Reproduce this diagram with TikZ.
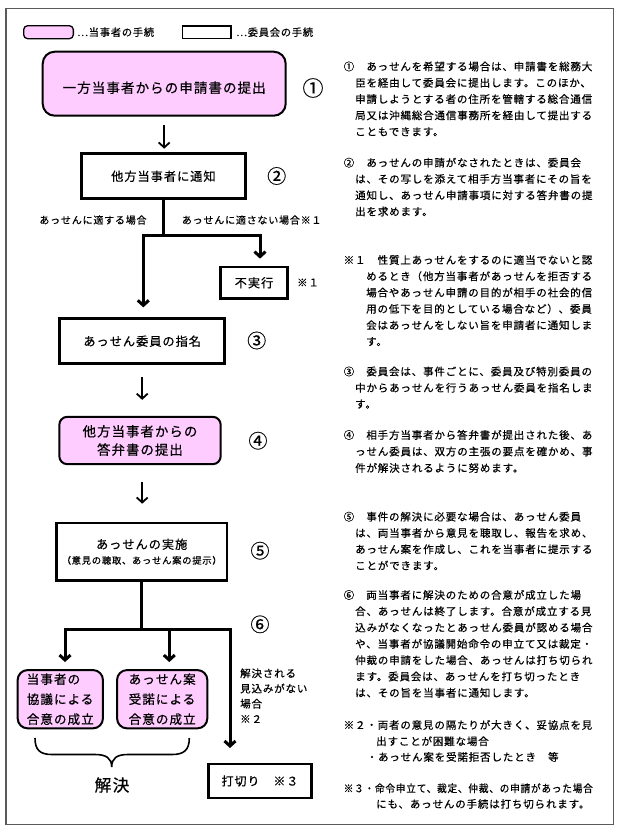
\documentclass[tikz,border=0pt]{standalone}
\usepackage{fontspec}
\usepackage{graphicx}
\setmainfont{Noto Sans CJK JP}[LetterSpace=8,FakeBold=0.5]
\usetikzlibrary{arrows.meta}
\definecolor{pinkfill}{RGB}{255,204,255}
\definecolor{framegray}{RGB}{90,90,90}
\newcounter{tlc}
\newcommand\txl[3]{\stepcounter{tlc}\node[tline] (t\arabic{tlc}) at (#1,#2) {#3};}
\newcommand\fs[1]{\fontsize{#1}{#1}\selectfont}
\begin{document}
\begin{tikzpicture}[x=1pt,y=-1pt,
  tline/.style={anchor=west, inner sep=0pt, font=\fs{10.5}, text height=9.2pt, text depth=1.3pt},
  pinkbox/.style={draw, line width=2pt, fill=pinkfill, rounded corners=12pt, inner sep=0pt},
  whitebox/.style={draw, line width=2.7pt, fill=white, inner sep=0pt},
  circnum/.style={inner sep=0pt, font=\fs{19}},
  lbl/.style={inner sep=0pt, font=\fs{10}},
  barb/.tip={Straight Barb[length=5pt,width=11pt]},
  thinarr/.style={line width=1.8pt, -barb},
  boldline/.style={line width=3pt},
  boldarr/.style={line width=3pt, -barb},
  boldarrs/.style={line width=3pt, barb-barb},
]
\useasboundingbox (0,0) rectangle (620,834);
\draw[framegray, line width=1.5pt] (6,8.5) rectangle (613.5,824.5);

% legend
\node[draw, line width=1.3pt, fill=pinkfill, rounded corners=4pt, minimum width=49.7pt, minimum height=13pt, inner sep=0pt] (lp) at (48.5,32.2) {};
\node[lbl, anchor=west, font=\fs{10.2}] (lpt) at (77,32.2) {⋯当事者の手続};
\node[draw, line width=1.5pt, fill=white, minimum width=48.8pt, minimum height=12.8pt, inner sep=0pt] (lw) at (206.8,32.2) {};
\node[lbl, anchor=west, font=\fs{10.2}] (lwt) at (236,32.2) {⋯委員会の手続};

% flow boxes
\node[pinkbox, minimum width=243pt, minimum height=64pt, font=\fs{13.5}, text height=19.9pt, text depth=1.6pt] (b1) at (164.2,83.7) {一方当事者からの申請書の提出};
\node[circnum, font=\fs{21}] (c1) at (313,88) {①};

\node[whitebox, minimum width=164.3pt, minimum height=45.3pt, font=\fs{12.2}] (b2) at (163.4,176.2) {他方当事者に通知};
\node[circnum] (c2) at (276.7,176) {②};

\node[lbl] (la) at (93,220) {あっせんに適する場合};
\node[lbl, anchor=west] (lb) at (181.7,220) {あっせんに適さない場合※１};

\node[whitebox, minimum width=67.3pt, minimum height=31.6pt, font=\fs{12.2}] (fj) at (254,282.8) {不実行};
\node[lbl, font=\fs{10.5}] (fjn) at (308,282.5) {※１};

\node[whitebox, minimum width=165pt, minimum height=45pt, font=\fs{12.2}] (b3) at (142.2,341.2) {あっせん委員の指名};
\node[circnum] (c3) at (256.7,340.5) {③};

\node[pinkbox, rounded corners=8pt, minimum width=161.4pt, minimum height=47.3pt, align=center, font=\fontsize{13.4}{18.4}\selectfont] (b4) at (140,440.5) {他方当事者からの\\答弁書の提出};
\node[circnum] (c4) at (258,440.7) {④};

\node[whitebox, minimum width=170.6pt, minimum height=57.3pt, align=center] (b5) at (141.7,551.7) {\fontsize{12.2}{14}\selectfont あっせんの実施\\[3pt]\fontsize{9.3}{11}\selectfont （意見の聴取、あっせん案の提示）};
\node[circnum] (c5) at (260,550.7) {⑤};
\node[circnum] (c6) at (260,624.3) {⑥};

\node[pinkbox, rounded corners=10pt, minimum width=85.3pt, minimum height=58.3pt, align=left, font=\fontsize{12.6}{20}\selectfont] (b6a) at (60.3,699.2) {当事者の\\協議による\\合意の成立};
\node[pinkbox, rounded corners=10pt, minimum width=90.3pt, minimum height=58.3pt, align=left, font=\fontsize{12.6}{20}\selectfont] (b6b) at (162.2,699.2) {あっせん案\\受諾による\\合意の成立};

\node[whitebox, minimum width=102.7pt, minimum height=33.9pt, font=\fs{12}] (ub) at (260,781) {打切り　※３};

\node[lbl, anchor=west, font=\fs{10.5}] (n1) at (240,673.3) {解決される};
\node[lbl, anchor=west, font=\fs{10.5}] (n2) at (240,688.5) {見込みがない};
\node[lbl, anchor=west, font=\fs{10.5}] (n3) at (240,703.7) {場合};
\node[lbl, anchor=west, font=\fs{10.5}] (n4) at (240,719) {※２};

\draw[line width=1.6pt] (35,738) .. controls (35,750) and (40,754.5) .. (52,754.5) -- (95,754.5) .. controls (106,754.5) and (111.7,758) .. (111.7,767) .. controls (111.7,758) and (117,754.5) .. (128,754.5) -- (172,754.5) .. controls (184,754.5) and (189.3,750) .. (189.3,738);
\node[inner sep=0pt, font=\fs{16.7}] (kk) at (112,785) {解決};

% connectors
\draw[thinarr] ([yshift=-8pt]b1.south) -- ([yshift=3.5pt]b1.south |- b2.north);
\coordinate (jl) at (143.3,235);
\coordinate (jr) at (260,235);
\draw[boldline] (b2.south) -- (b2.south |- jl);
\draw[boldarrs] ([yshift=10pt]b3.north -| jl) -- (jl) -- (jr) -- ([yshift=7pt]fj.north -| jr);
\draw[thinarr] ([yshift=-12pt]b3.south) -- ([yshift=16pt]b4.north -| b3.south);
\draw[thinarr] ([yshift=-16.6pt]b4.south -| b3.south) -- ([yshift=18pt]b5.north -| b3.south);
\coordinate (j6a) at (65,629.3);
\coordinate (j6b) at (169.3,629.3);
\coordinate (j6c) at (230,629.3);
\draw[boldline] (b5.south) -- (b5.south |- j6a);
\draw[boldarrs] ([yshift=7pt]b6a.north -| j6a) -- (j6a) -- (j6c) -- ([yshift=14.7pt]ub.north -| j6c);
\draw[boldarr] (j6b) -- ([yshift=7pt]b6b.north -| j6b);

% right column
\txl{343.5}{66.5}{①　あっせんを希望する場合は、申請書を総務大}
\txl{355}{82.8}{臣を経由して委員会に提出します。このほか、}
\txl{355}{99.1}{申請しようとする者の住所を管轄する総合通信}
\txl{355}{115.4}{局又は沖縄総合通信事務所を経由して提出する}
\txl{355}{131.7}{こともできます。}

\txl{343.5}{162.7}{②　あっせんの申請がなされたときは、委員会}
\txl{355}{179}{は、その写しを添えて相手方当事者にその旨を}
\txl{355}{195.3}{通知し、あっせん申請事項に対する答弁書の提}
\txl{355}{211.6}{出を求めます。}

\txl{343.5}{260}{※１　性質上あっせんをするのに適当でないと認}
\txl{366}{276.3}{めるとき（他方当事者があっせんを拒否する}
\txl{366}{292.6}{場合やあっせん申請の目的が相手の社会的信}
\txl{366}{308.9}{用の低下を目的としている場合など）、委員}
\txl{366}{325.2}{会はあっせんをしない旨を申請者に通知しま}
\txl{366}{341.5}{す。}

\txl{343.5}{371.5}{③　委員会は、事件ごとに、委員及び特別委員の}
\txl{355}{387.8}{中からあっせんを行うあっせん委員を指名しま}
\txl{355}{404.1}{す。}

\txl{343.5}{435}{④　相手方当事者から答弁書が提出された後、あ}
\txl{355}{451.5}{っせん委員は、双方の主張の要点を確かめ、事}
\txl{355}{468}{件が解決されるように努めます。}

\txl{343.5}{516.7}{⑤　事件の解決に必要な場合は、あっせん委員}
\txl{355}{533}{は、両当事者から意見を聴取し、報告を求め、}
\txl{355}{549.3}{あっせん案を作成し、これを当事者に提示する}
\txl{355}{565.6}{ことができます。}

\txl{343.5}{595}{⑥　両当事者に解決のための合意が成立した場}
\txl{355}{611.3}{合、あっせんは終了します。合意が成立する見}
\txl{355}{627.6}{込みがなくなったとあっせん委員が認める場合}
\txl{355}{643.9}{や、当事者が協議開始命令の申立て又は裁定・}
\txl{355}{660.2}{仲裁の申請をした場合、あっせんは打ち切られ}
\txl{355}{676.5}{ます。委員会は、あっせんを打ち切ったとき}
\txl{355}{692.8}{は、その旨を当事者に通知します。}

\txl{343.5}{725}{※２・両者の意見の隔たりが大きく、妥協点を見}
\txl{376}{741.3}{出すことが困難な場合}
\txl{366.5}{757}{・あっせん案を受諾拒否したとき　等}

\txl{343.5}{788.3}{\scalebox{0.92}[1]{※３・命令申立て、裁定、仲裁、の申請があった場合}}
\txl{376}{804}{にも、あっせんの手続は打ち切られます。}
\end{tikzpicture}
\end{document}
